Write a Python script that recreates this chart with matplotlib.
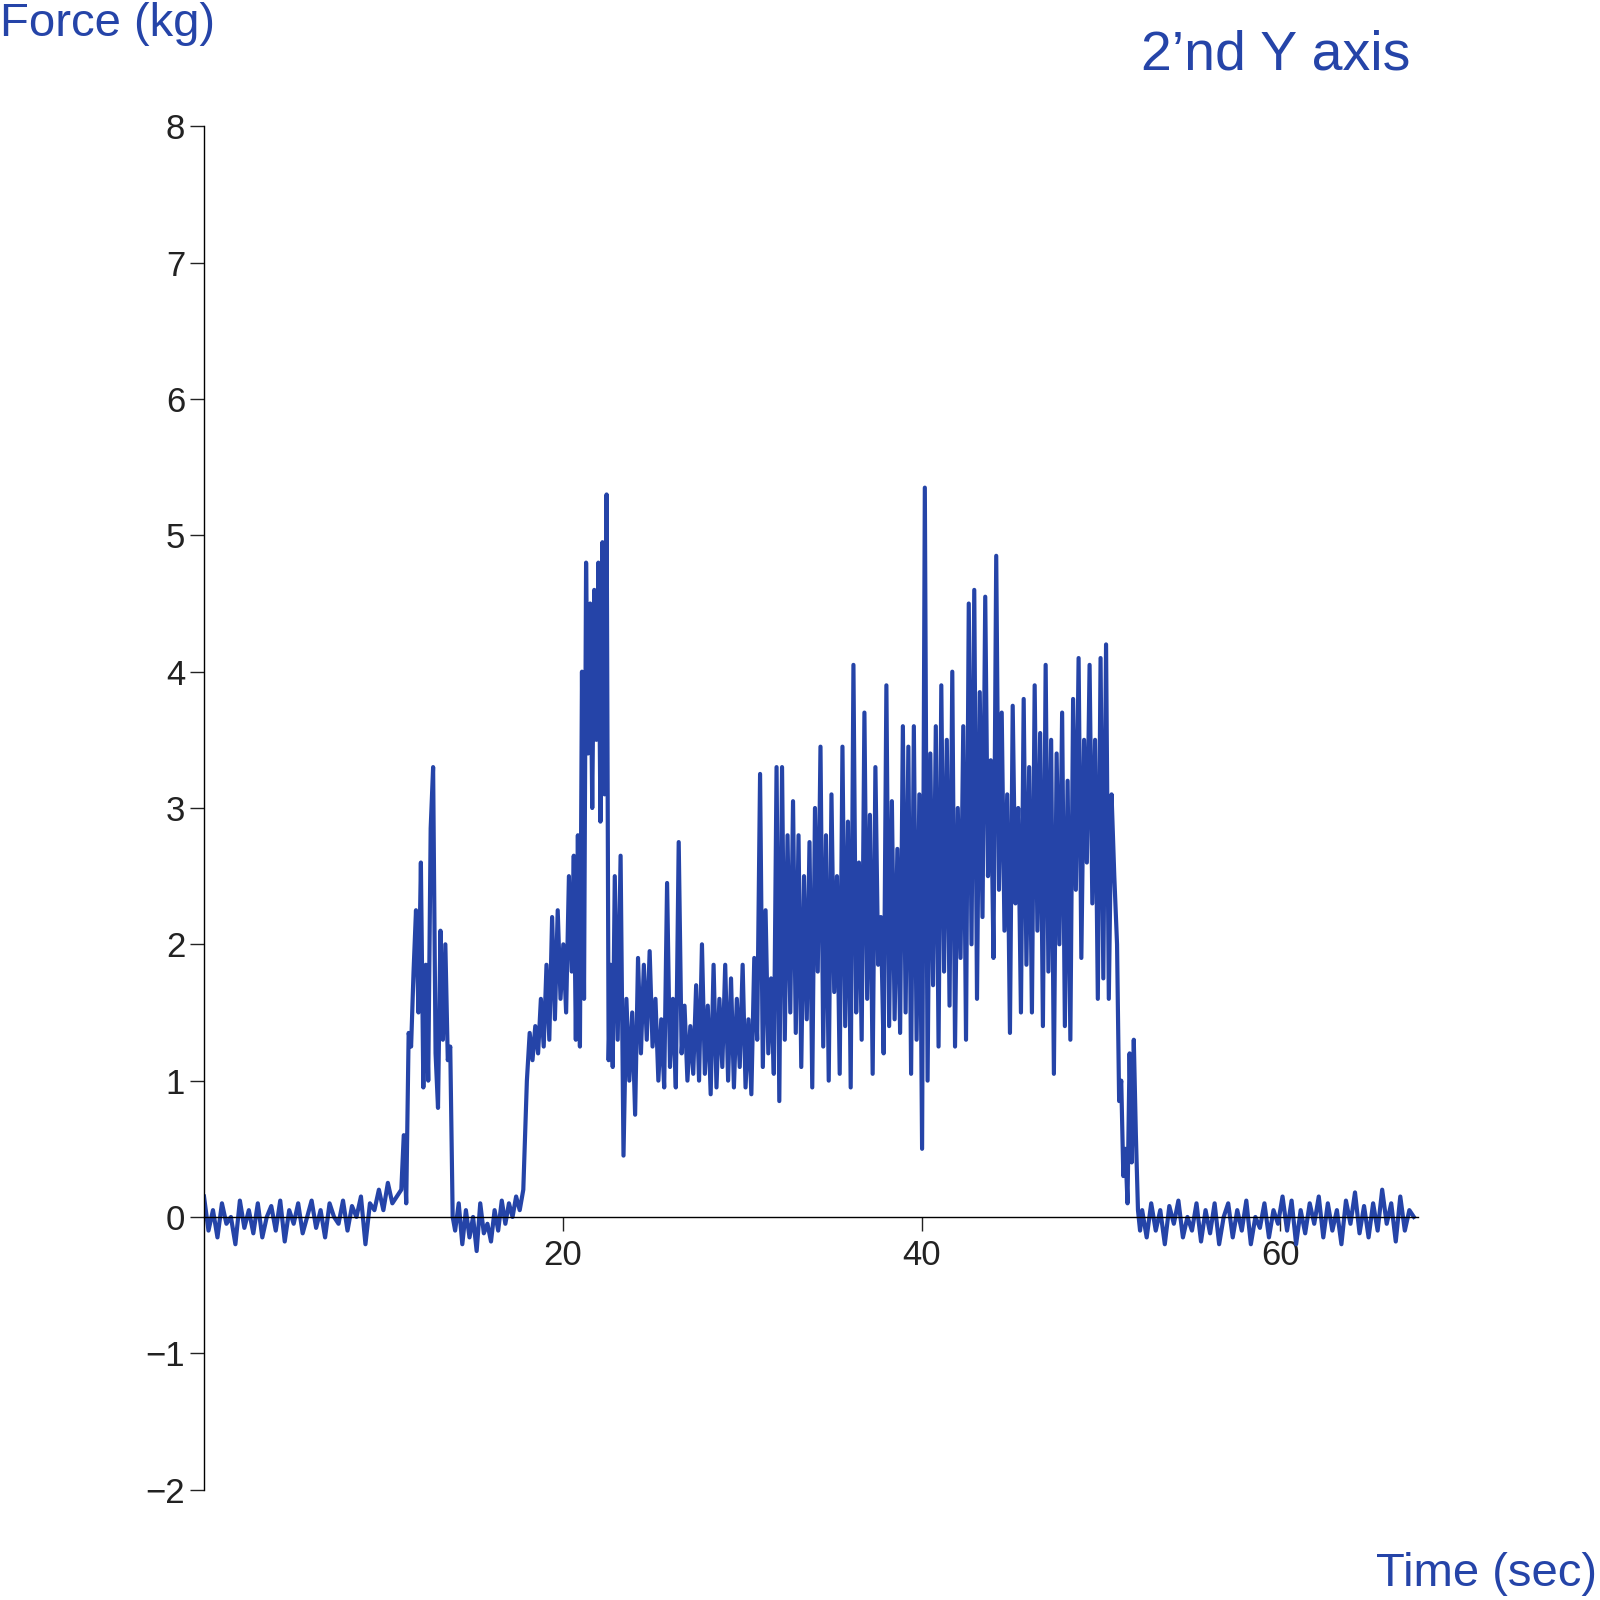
import numpy as np
import matplotlib
matplotlib.use("Agg")
import matplotlib.pyplot as plt

plt.rcParams["font.family"] = ["Liberation Sans", "DejaVu Sans"]
BLUE = "#2544a8"

# force readings (kg), per time segment (sec)
seg_base1 = [0.15, -0.1, 0.05, -0.15, 0.1, -0.05, 0.0, -0.2, 0.12, -0.08, 0.05, -0.12,
             0.1, -0.15, 0.0, 0.08, -0.1, 0.12, -0.18, 0.05, -0.05, 0.1, -0.12, 0.0,
             0.12, -0.08, 0.05, -0.15, 0.1, 0.0, -0.05, 0.12, -0.1, 0.08, 0.0, 0.15,
             -0.2, 0.1, 0.05, 0.2, 0.05, 0.25, 0.1, 0.15]
seg_peak1 = [0.2, 0.6, 0.1, 1.35, 1.25, 1.8, 2.25, 1.5, 2.6, 0.95, 1.85, 1.0,
             2.85, 3.3, 1.2, 0.8, 2.1, 1.3, 2.0, 1.15, 1.25, 0.0]
seg_base2 = [-0.1, 0.1, -0.2, 0.05, -0.15, 0.0, -0.25, 0.1, -0.12, -0.05, -0.18,
             0.05, -0.1, 0.12, -0.05, 0.1, 0.0, 0.15, 0.05, 0.2]
seg_rise = [1.0, 1.35, 1.15, 1.4, 1.2, 1.6, 1.25, 1.85, 1.3, 2.2, 1.45, 2.25, 1.6,
            2.0, 1.5, 2.5]
seg_peak2 = [1.8, 2.65, 1.3, 2.8, 1.25, 4.0, 1.6, 4.8, 3.4, 4.5, 3.0, 4.6, 3.5,
             4.8, 2.9, 4.95, 3.1, 5.3, 1.15, 1.85, 1.1]
seg_mid = [2.5, 1.3, 2.65, 0.45, 1.6, 1.0, 1.5, 0.75, 1.9, 1.2, 1.85, 1.3, 1.95,
           1.25, 1.6, 1.0, 1.45, 0.95, 2.45, 1.1, 1.6, 0.95, 2.75, 1.2, 1.55,
           1.0, 1.4, 1.05, 1.7, 1.0, 2.0, 1.05, 1.55, 0.9, 1.85, 0.95, 1.6,
           1.1, 1.85, 1.0, 1.75, 0.95, 1.6, 1.1, 1.85, 0.95, 1.45, 0.9, 1.9, 1.3]
seg_active = [3.25, 1.1, 2.25, 1.2, 1.75, 1.05, 3.3, 0.85, 3.3, 1.3, 2.8, 1.5,
              3.05, 1.35, 2.8, 1.1, 2.5, 1.45, 2.75, 0.95, 3.0, 1.8, 3.45, 1.25,
              2.8, 1.0, 3.1, 1.65, 2.5, 1.05, 3.45, 1.4, 2.9, 0.95, 4.05, 1.5,
              2.6, 1.3, 3.7, 1.6, 2.95, 1.05, 3.3, 1.85, 2.2, 1.2, 3.9, 1.4,
              3.05, 1.45, 2.7, 1.35, 3.6, 1.5, 3.45, 1.05, 3.6, 1.3, 3.1, 0.5,
              5.35, 1.0, 3.4, 1.7, 3.6, 1.25, 3.9, 1.8, 3.5, 1.55, 4.0, 1.25,
              3.0, 1.9, 3.6, 1.3, 4.5, 2.0, 4.6, 1.6, 3.85, 2.2, 4.55, 2.5,
              3.35, 1.9, 4.85, 2.4, 3.7, 2.1, 3.1, 1.35, 3.75, 2.3, 3.0, 1.5,
              3.8, 1.85, 3.3, 1.5, 3.9, 2.1, 3.55, 1.4, 4.05, 1.8, 3.5, 1.05,
              3.4, 2.0, 3.7, 1.4, 3.2, 1.3, 3.8, 2.4, 4.1, 1.9, 3.5, 2.6,
              4.05, 2.3, 3.5, 1.6, 4.1, 1.75, 4.2, 1.6, 3.1, 2.5]
seg_fall = [2.0, 0.85, 1.0, 0.3, 0.5, 0.1, 1.2, 0.4, 1.3, 0.6, 0.05, -0.1]
seg_base3 = [0.05, -0.15, 0.1, -0.1, 0.05, -0.2, 0.08, -0.05, 0.12, -0.15, 0.0,
             -0.1, 0.1, -0.18, 0.05, -0.12, 0.1, -0.2, 0.0, 0.1, -0.15, 0.05,
             -0.1, 0.12, -0.2, 0.0, -0.08, 0.1, -0.15, 0.05, -0.05, 0.15, -0.1,
             0.12, -0.2, 0.05, -0.12, 0.1, -0.05, 0.15, -0.15, 0.1, -0.1, 0.05,
             -0.2, 0.12, -0.05, 0.18, -0.12, 0.08, -0.15, 0.1, -0.1, 0.2, -0.05,
             0.1, -0.18, 0.15, -0.1, 0.05, 0.0]

segments = [(0.0, 11.0, seg_base1), (11.0, 14.0, seg_peak1), (14.0, 18.0, seg_base2),
            (18.0, 20.5, seg_rise), (20.5, 22.9, seg_peak2), (22.9, 31.0, seg_mid),
            (31.0, 50.9, seg_active), (50.9, 52.3, seg_fall), (52.3, 67.7, seg_base3)]

t, f = [], []
for start, end, vals in segments:
    t.append(np.linspace(start, end, len(vals), endpoint=False))
    f.append(vals)
t = np.concatenate(t)
f = np.concatenate(f)

fig = plt.figure(figsize=(16, 16), dpi=100)
ax = fig.add_axes([0.1275, 0.069, 0.759, 0.852])
ax.plot(t, f, color=BLUE, lw=3.0)

ax.set_xlim(0, 67.7)
ax.set_ylim(-2, 8)
ax.spines[["top", "right"]].set_visible(False)
ax.spines["bottom"].set_position(("data", 0))
ax.spines["left"].set_linewidth(1)
ax.spines["bottom"].set_linewidth(1)
ax.set_xticks([20, 40, 60])
ax.set_yticks(range(-2, 9))
ax.set_yticklabels(["\u22122", "\u22121"] + [str(v) for v in range(0, 9)])
ax.tick_params(axis="both", labelsize=25, colors="#222222", length=10, width=1)
ax.tick_params(axis="x", pad=6)

fig.text(0.0, 0.985, "Force (kg)", color=BLUE, fontsize=34, va="center", ha="left")
fig.text(0.797, 0.965, "2\u2019nd Y axis", color=BLUE, fontsize=40, va="center", ha="center")
fig.text(0.998, 0.016, "Time (sec)", color=BLUE, fontsize=34, va="center", ha="right")

fig.savefig("out.png", dpi=100)
